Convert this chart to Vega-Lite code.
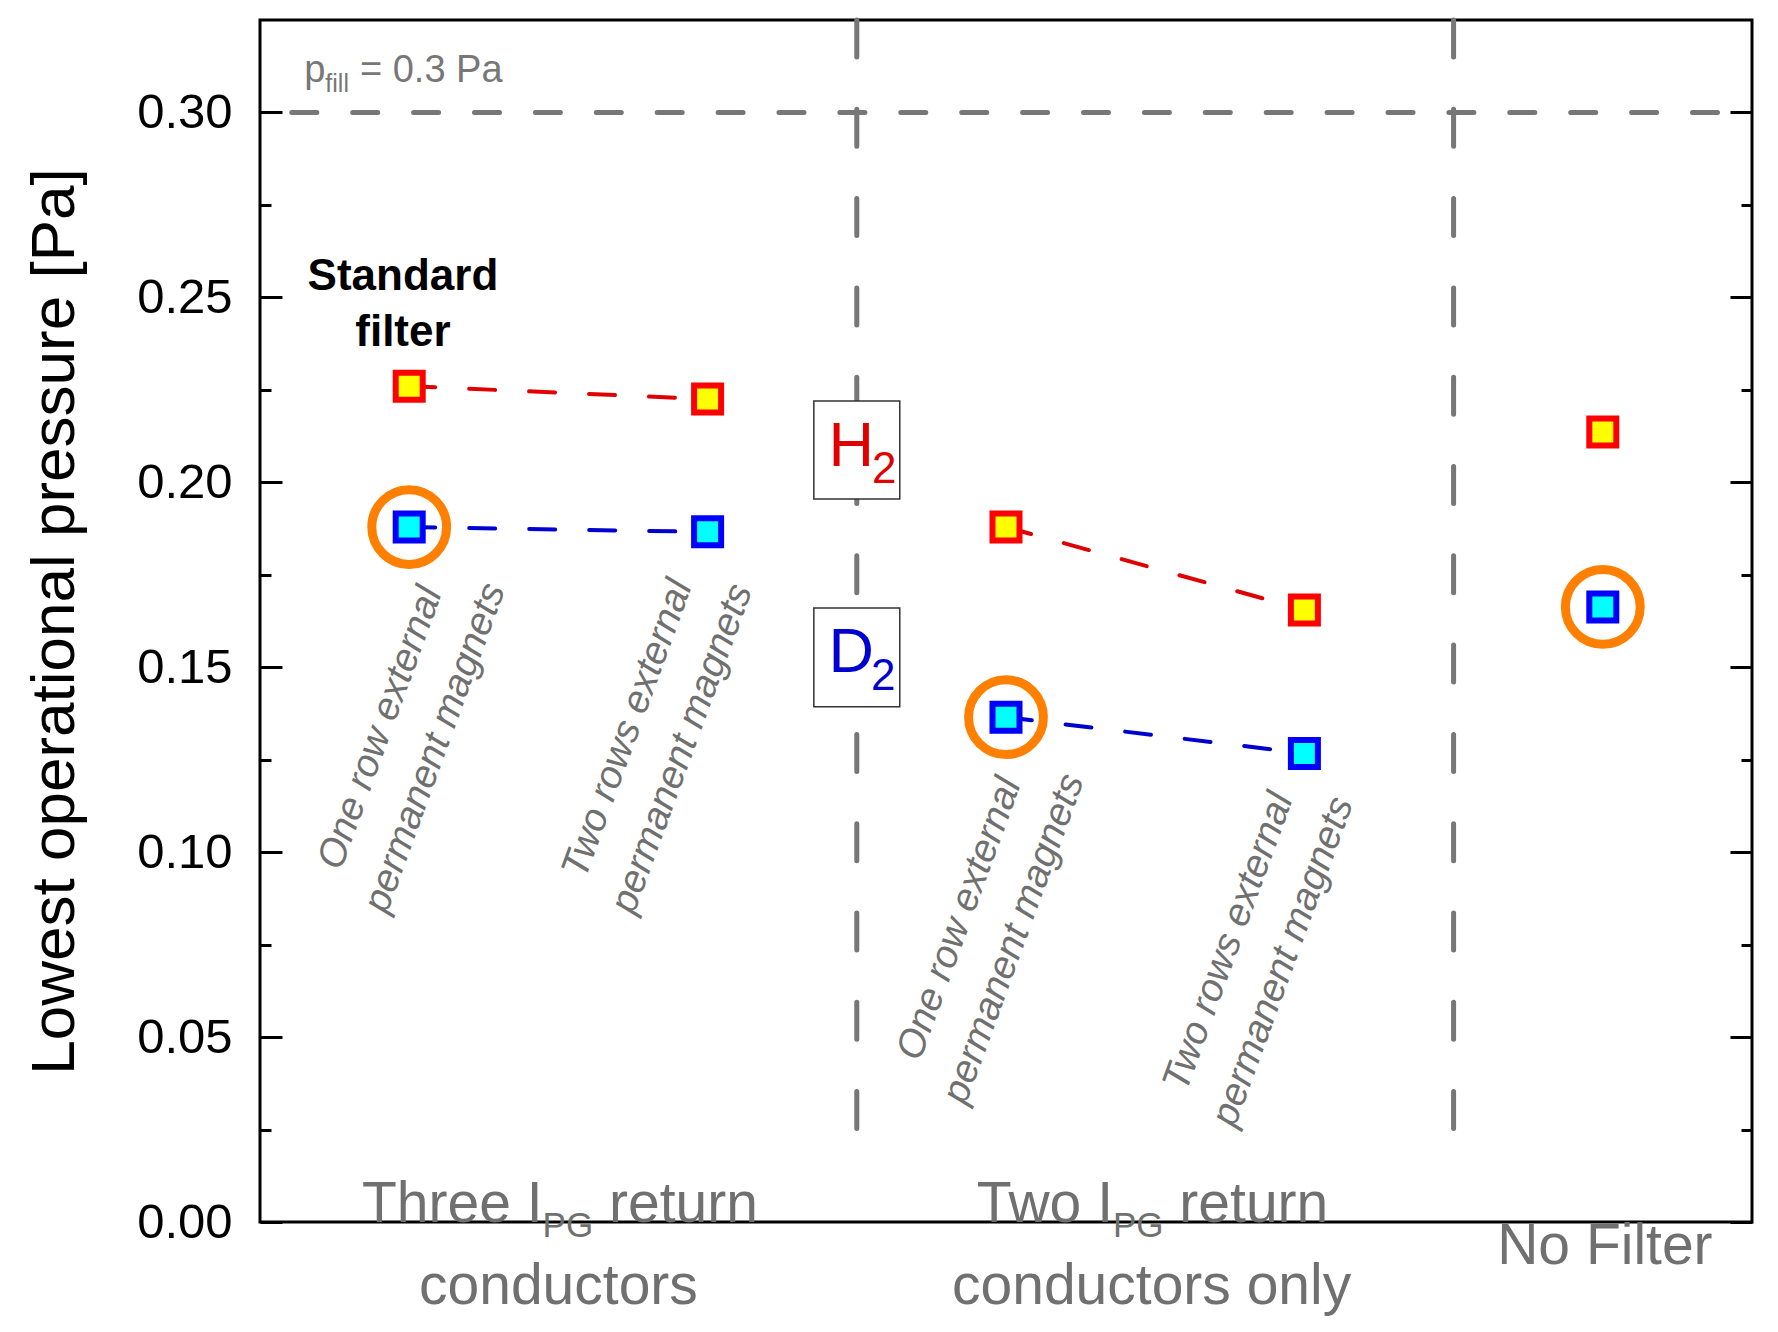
{
  "$schema": "https://vega.github.io/schema/vega-lite/v6.json",
  "width": 1492,
  "height": 1202,
  "autosize": {"type": "none"},
  "padding": {"left": 260, "top": 20, "right": 26, "bottom": 110},
  "background": "white",
  "config": {
    "view": {"stroke": "black", "strokeWidth": 3},
    "font": "Liberation Sans",
    "axis": {"grid": false, "domain": false, "tickColor": "black", "tickWidth": 3}
  },
  "datasets": {
    "points": [
      {"cat": 1, "gas": "H2", "p": 0.2260, "seg": "A", "highlight": false},
      {"cat": 2, "gas": "H2", "p": 0.2225, "seg": "A", "highlight": false},
      {"cat": 3, "gas": "H2", "p": 0.1879, "seg": "B", "highlight": false},
      {"cat": 4, "gas": "H2", "p": 0.1655, "seg": "B", "highlight": false},
      {"cat": 5, "gas": "H2", "p": 0.2136, "seg": "C", "highlight": false},
      {"cat": 1, "gas": "D2", "p": 0.1879, "seg": "A", "highlight": true},
      {"cat": 2, "gas": "D2", "p": 0.1866, "seg": "A", "highlight": false},
      {"cat": 3, "gas": "D2", "p": 0.1365, "seg": "B", "highlight": true},
      {"cat": 4, "gas": "D2", "p": 0.1267, "seg": "B", "highlight": false},
      {"cat": 5, "gas": "D2", "p": 0.1663, "seg": "C", "highlight": true}
    ],
    "dividers": [{"x": 2.5}, {"x": 4.5}],
    "boxes": [
      {"gas": "H2", "left": 2.356, "right": 2.644, "low": 0.1955, "high": 0.2220},
      {"gas": "D2", "left": 2.356, "right": 2.644, "low": 0.1393, "high": 0.1660}
    ],
    "notes": [
      {"kind": "gasMain", "gas": "H2", "x": 2.405, "y": 0.2043, "text": "H"},
      {"kind": "gasSub", "gas": "H2", "x": 2.551, "y": 0.1998, "text": "2"},
      {"kind": "gasMain", "gas": "D2", "x": 2.405, "y": 0.1486, "text": "D"},
      {"kind": "gasSub", "gas": "D2", "x": 2.548, "y": 0.1438, "text": "2"},
      {"kind": "pMain", "x": 0.648, "y": 0.3082, "text": "p"},
      {"kind": "pSub", "x": 0.719, "y": 0.3054, "text": "fill"},
      {"kind": "pMain", "x": 0.835, "y": 0.3082, "text": "= 0.3 Pa"},
      {"kind": "std", "x": 0.979, "y": 0.2521, "text": "Standard\nfilter"},
      {"kind": "rot", "x": 0.903, "y": 0.1336, "text": "One row external\npermanent magnets"},
      {"kind": "rot", "x": 1.731, "y": 0.1334, "text": "Two rows external\npermanent magnets"},
      {"kind": "rot", "x": 2.843, "y": 0.0820, "text": "One row external\npermanent magnets"},
      {"kind": "rot", "x": 3.745, "y": 0.0758, "text": "Two rows external\npermanent magnets"},
      {"kind": "grpR", "x": 1.447, "y": 0.0, "text": "Three I"},
      {"kind": "grpSub", "x": 1.447, "y": -0.0040, "text": "PG"},
      {"kind": "grpL", "x": 1.6696, "y": 0.0, "text": "return"},
      {"kind": "grpC", "x": 1.5, "y": -0.0222, "text": "conductors"},
      {"kind": "grpR", "x": 3.3586, "y": 0.0, "text": "Two I"},
      {"kind": "grpSub", "x": 3.3586, "y": -0.0040, "text": "PG"},
      {"kind": "grpL", "x": 3.581, "y": 0.0, "text": "return"},
      {"kind": "grpC", "x": 3.488, "y": -0.0222, "text": "conductors only"},
      {"kind": "grpC", "x": 5.007, "y": -0.0114, "text": "No Filter"}
    ]
  },
  "layer": [
    {
      "data": {"values": [{}]},
      "mark": {"type": "rule", "color": "#777777", "strokeWidth": 5, "strokeDash": [25, 35.9], "strokeDashOffset": 26.4, "strokeCap": "round"},
      "encoding": {
        "y": {"datum": 0.3, "type": "quantitative", "scale": {"domain": [0, 0.325], "nice": false, "zero": false},
          "axis": {"orient": "right", "values": [0.025, 0.075, 0.125, 0.175, 0.225, 0.275], "labels": false, "tickSize": -11, "title": null}}
      }
    },
    {
      "data": {"name": "dividers"},
      "mark": {"type": "rule", "color": "#777777", "strokeWidth": 5, "strokeDash": [37, 52.3], "strokeCap": "round"},
      "encoding": {
        "x": {"field": "x", "type": "quantitative", "scale": {"domain": [0.5, 5.5], "nice": false, "zero": false}, "axis": null},
        "y": {"datum": 0.325, "type": "quantitative", "scale": {"domain": [0, 0.325], "nice": false, "zero": false}, "axis": null},
        "y2": {"datum": 0.0239}
      }
    },
    {
      "data": {"name": "boxes"},
      "mark": {"type": "rect", "fill": "white", "stroke": "#333333", "strokeWidth": 1.5},
      "encoding": {
        "x": {"field": "left", "type": "quantitative", "scale": {"domain": [0.5, 5.5], "nice": false, "zero": false}, "axis": null},
        "x2": {"field": "right"},
        "y": {"field": "high", "type": "quantitative", "scale": {"domain": [0, 0.325], "nice": false, "zero": false}, "axis": null},
        "y2": {"field": "low"}
      }
    },
    {
      "data": {"name": "notes"},
      "transform": [{"filter": "datum.kind === 'gasMain'"}],
      "mark": {"type": "text", "align": "left", "baseline": "alphabetic", "fontSize": 63},
      "encoding": {
        "x": {"field": "x", "type": "quantitative", "scale": {"domain": [0.5, 5.5], "nice": false, "zero": false}, "axis": null},
        "y": {"field": "y", "type": "quantitative", "scale": {"domain": [0, 0.325], "nice": false, "zero": false}, "axis": null},
        "text": {"field": "text"},
        "color": {"field": "gas", "type": "nominal", "scale": {"domain": ["H2", "D2"], "range": ["#e00000", "#0000d0"]}, "legend": null}
      }
    },
    {
      "data": {"name": "notes"},
      "transform": [{"filter": "datum.kind === 'gasSub'"}],
      "mark": {"type": "text", "align": "left", "baseline": "alphabetic", "fontSize": 44},
      "encoding": {
        "x": {"field": "x", "type": "quantitative", "scale": {"domain": [0.5, 5.5], "nice": false, "zero": false}, "axis": null},
        "y": {"field": "y", "type": "quantitative", "scale": {"domain": [0, 0.325], "nice": false, "zero": false}, "axis": null},
        "text": {"field": "text"},
        "color": {"field": "gas", "type": "nominal", "scale": {"domain": ["H2", "D2"], "range": ["#e00000", "#0000d0"]}, "legend": null}
      }
    },
    {
      "data": {"name": "notes"},
      "transform": [{"filter": "datum.kind === 'pMain'"}],
      "mark": {"type": "text", "align": "left", "baseline": "alphabetic", "fontSize": 38, "color": "#777777"},
      "encoding": {
        "x": {"field": "x", "type": "quantitative", "scale": {"domain": [0.5, 5.5], "nice": false, "zero": false}, "axis": null},
        "y": {"field": "y", "type": "quantitative", "scale": {"domain": [0, 0.325], "nice": false, "zero": false}, "axis": null},
        "text": {"field": "text"}
      }
    },
    {
      "data": {"name": "notes"},
      "transform": [{"filter": "datum.kind === 'pSub'"}],
      "mark": {"type": "text", "align": "left", "baseline": "alphabetic", "fontSize": 25, "color": "#777777"},
      "encoding": {
        "x": {"field": "x", "type": "quantitative", "scale": {"domain": [0.5, 5.5], "nice": false, "zero": false}, "axis": null},
        "y": {"field": "y", "type": "quantitative", "scale": {"domain": [0, 0.325], "nice": false, "zero": false}, "axis": null},
        "text": {"field": "text"}
      }
    },
    {
      "data": {"name": "notes"},
      "transform": [{"filter": "datum.kind === 'std'"}],
      "mark": {"type": "text", "align": "center", "baseline": "alphabetic", "fontSize": 44, "fontWeight": "bold", "color": "black", "lineBreak": "\n", "lineHeight": 56},
      "encoding": {
        "x": {"field": "x", "type": "quantitative", "scale": {"domain": [0.5, 5.5], "nice": false, "zero": false}, "axis": null},
        "y": {"field": "y", "type": "quantitative", "scale": {"domain": [0, 0.325], "nice": false, "zero": false}, "axis": null},
        "text": {"field": "text"}
      }
    },
    {
      "data": {"name": "notes"},
      "transform": [{"filter": "datum.kind === 'rot'"}],
      "mark": {"type": "text", "align": "center", "baseline": "middle", "fontSize": 39, "fontStyle": "italic", "color": "#707070", "angle": -70, "lineBreak": "\n", "lineHeight": 58},
      "encoding": {
        "x": {"field": "x", "type": "quantitative", "scale": {"domain": [0.5, 5.5], "nice": false, "zero": false}, "axis": null},
        "y": {"field": "y", "type": "quantitative", "scale": {"domain": [0, 0.325], "nice": false, "zero": false}, "axis": null},
        "text": {"field": "text"}
      }
    },
    {
      "data": {"name": "notes"},
      "transform": [{"filter": "datum.kind === 'grpR'"}],
      "mark": {"type": "text", "align": "right", "baseline": "alphabetic", "fontSize": 57, "color": "#707070"},
      "encoding": {
        "x": {"field": "x", "type": "quantitative", "scale": {"domain": [0.5, 5.5], "nice": false, "zero": false}, "axis": null},
        "y": {"field": "y", "type": "quantitative", "scale": {"domain": [0, 0.325], "nice": false, "zero": false}, "axis": null},
        "text": {"field": "text"}
      }
    },
    {
      "data": {"name": "notes"},
      "transform": [{"filter": "datum.kind === 'grpSub'"}],
      "mark": {"type": "text", "align": "left", "baseline": "alphabetic", "fontSize": 35, "color": "#707070"},
      "encoding": {
        "x": {"field": "x", "type": "quantitative", "scale": {"domain": [0.5, 5.5], "nice": false, "zero": false}, "axis": null},
        "y": {"field": "y", "type": "quantitative", "scale": {"domain": [0, 0.325], "nice": false, "zero": false}, "axis": null},
        "text": {"field": "text"}
      }
    },
    {
      "data": {"name": "notes"},
      "transform": [{"filter": "datum.kind === 'grpL'"}],
      "mark": {"type": "text", "align": "left", "baseline": "alphabetic", "fontSize": 57, "color": "#707070"},
      "encoding": {
        "x": {"field": "x", "type": "quantitative", "scale": {"domain": [0.5, 5.5], "nice": false, "zero": false}, "axis": null},
        "y": {"field": "y", "type": "quantitative", "scale": {"domain": [0, 0.325], "nice": false, "zero": false}, "axis": null},
        "text": {"field": "text"}
      }
    },
    {
      "data": {"name": "notes"},
      "transform": [{"filter": "datum.kind === 'grpC'"}],
      "mark": {"type": "text", "align": "center", "baseline": "alphabetic", "fontSize": 57, "color": "#707070"},
      "encoding": {
        "x": {"field": "x", "type": "quantitative", "scale": {"domain": [0.5, 5.5], "nice": false, "zero": false}, "axis": null},
        "y": {"field": "y", "type": "quantitative", "scale": {"domain": [0, 0.325], "nice": false, "zero": false}, "axis": null},
        "text": {"field": "text"}
      }
    },
    {
      "data": {"name": "points"},
      "transform": [{"filter": "datum.seg !== 'C'"}],
      "mark": {"type": "line", "strokeWidth": 4, "strokeDash": [26, 34], "strokeCap": "round"},
      "encoding": {
        "x": {"field": "cat", "type": "quantitative", "scale": {"domain": [0.5, 5.5], "nice": false, "zero": false}, "axis": null},
        "y": {"field": "p", "type": "quantitative", "scale": {"domain": [0, 0.325], "nice": false, "zero": false},
          "axis": {"orient": "right", "values": [0, 0.05, 0.1, 0.15, 0.2, 0.25, 0.3], "labels": false, "tickSize": -22, "title": null}},
        "detail": {"field": "seg"},
        "color": {"field": "gas", "type": "nominal", "scale": {"domain": ["H2", "D2"], "range": ["#e00000", "#0000d0"]}, "legend": null}
      }
    },
    {
      "data": {"name": "points"},
      "transform": [{"filter": "datum.highlight"}],
      "mark": {"type": "point", "shape": "circle", "filled": false, "size": 5600, "stroke": "#ff7f00", "strokeWidth": 9, "opacity": 1},
      "encoding": {
        "x": {"field": "cat", "type": "quantitative", "scale": {"domain": [0.5, 5.5], "nice": false, "zero": false}, "axis": null},
        "y": {"field": "p", "type": "quantitative", "scale": {"domain": [0, 0.325], "nice": false, "zero": false},
          "axis": {"orient": "left", "values": [0.025, 0.075, 0.125, 0.175, 0.225, 0.275], "labels": false, "tickSize": -11, "title": null}}
      }
    },
    {
      "data": {"name": "points"},
      "mark": {"type": "point", "shape": "square", "filled": true, "size": 729, "strokeWidth": 6, "opacity": 1},
      "encoding": {
        "x": {"field": "cat", "type": "quantitative", "scale": {"domain": [0.5, 5.5], "nice": false, "zero": false}, "axis": null},
        "y": {"field": "p", "type": "quantitative", "scale": {"domain": [0, 0.325], "nice": false, "zero": false},
          "axis": {"orient": "left", "values": [0, 0.05, 0.1, 0.15, 0.2, 0.25, 0.3], "format": ".2f", "tickSize": -22, "labelPadding": 50,
            "labelFontSize": 49, "labelColor": "black", "labelFont": "Liberation Sans",
            "title": "Lowest operational pressure [Pa]", "titleFontSize": 62, "titleFontWeight": "normal", "titleColor": "black", "titleFont": "Liberation Sans", "titlePadding": 50}},
        "fill": {"field": "gas", "type": "nominal", "scale": {"domain": ["H2", "D2"], "range": ["#ffff00", "#00ffff"]}, "legend": null},
        "stroke": {"field": "gas", "type": "nominal", "scale": {"domain": ["H2", "D2"], "range": ["#ff0000", "#0000ff"]}, "legend": null}
      }
    }
  ],
  "resolve": {"axis": {"y": "independent"}}
}
